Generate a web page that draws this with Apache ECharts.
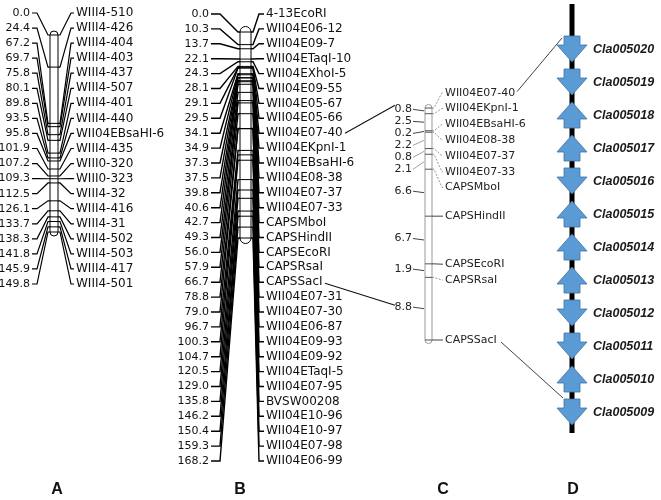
<!DOCTYPE html>
<html><head><meta charset="utf-8">
<script src="https://cdn.jsdelivr.net/npm/echarts@6/dist/echarts.min.js"></script>
<style>html,body{margin:0;padding:0;background:#fff}#c{width:661px;height:500px}</style>
</head><body><div id="c"></div>
<script>
// ---- data ----
const aPositions = [0.0,24.4,67.2,69.7,75.8,80.1,89.8,93.5,95.8,101.9,107.2,109.3,112.5,126.1,133.7,138.3,141.8,145.9,149.8];
const aMarkers = ['WIII4-510','WIII4-426','WIII4-404','WIII4-403','WIII4-437','WIII4-507','WIII4-401','WIII4-440','WII04EBsaHI-6','WIII4-435','WIII0-320','WIII0-323','WIII4-32','WIII4-416','WIII4-31','WIII4-502','WIII4-503','WIII4-417','WIII4-501'];
const bPositions = [0.0,10.3,13.7,22.1,24.3,28.1,29.1,29.5,34.1,34.9,37.3,37.5,39.8,40.6,42.7,49.3,56.0,57.9,66.7,78.8,79.0,96.7,100.3,104.7,120.5,129.0,135.8,146.2,150.4,159.3,168.2];
const bMarkers = ['4-13EcoRI','WII04E06-12','WII04E09-7','WII04ETaqI-10','WII04EXhoI-5','WII04E09-55','WII04E05-67','WII04E05-66','WII04E07-40','WII04EKpnI-1','WII04EBsaHI-6','WII04E08-38','WII04E07-37','WII04E07-33','CAPSMboI','CAPSHindII','CAPSEcoRI','CAPSRsaI','CAPSSacI','WII04E07-31','WII04E07-30','WII04E06-87','WII04E09-93','WII04E09-92','WII04ETaqI-5','WII04E07-95','BVSW00208','WII04E10-96','WII04E10-97','WII04E07-98','WII04E06-99'];
const cPositions = [34.1,34.9,37.3,37.5,39.8,40.6,42.7,49.3,56.0,57.9,66.7];
const cMarkers = ['WII04E07-40','WII04EKpnI-1','WII04EBsaHI-6','WII04E08-38','WII04E07-37','WII04E07-33','CAPSMboI','CAPSHindII','CAPSEcoRI','CAPSRsaI','CAPSSacI'];
const cIntervals = [0.8,2.5,0.2,2.2,0.8,2.1,6.6,6.7,1.9,8.8];
const dGenes = ['Cla005020','Cla005019','Cla005018','Cla005017','Cla005016','Cla005015','Cla005014','Cla005013','Cla005012','Cla005011','Cla005010','Cla005009'];
const dStrands = ['-','-','+','+','-','+','+','+','-','-','+','-'];
const panelLetters = ['A','B','C','D'];

const chart = echarts.init(document.getElementById('c'), null, {renderer:'canvas'});
const NFONT = '11px "DejaVu Sans"';
const MFONT = '12px "DejaVu Sans"';
const CFONT = '11px "DejaVu Sans"';
const INK = '#111';

function yPix(axisIdx, v){ return chart.convertToPixel({yAxisIndex: axisIdx}, v); }

function barSeries(ax, ay, lo, hi, stroke){
  return {type:'custom', xAxisIndex:ax, yAxisIndex:ay, silent:true, animation:false, z:1,
    data:[[0, lo, 1, hi]], encode:{x:[0,2], y:[1,3]},
    renderItem:function(params, api){
      const p1 = api.coord([api.value(0), api.value(1)]);
      const p2 = api.coord([api.value(2), api.value(3)]);
      const w = p2[0]-p1[0], cap = w/2;
      return {type:'rect', shape:{x:p1[0], y:p1[1]-cap, width:w, height:p2[1]-p1[1]+2*cap, r:cap},
        style:{fill:'#fff', stroke:stroke, lineWidth:1}};
    }};
}

function mapSeries(o){
  return {type:'custom', xAxisIndex:o.ax, yAxisIndex:o.ay, silent:true, animation:false, z:2,
    data:o.positions.map((p,i)=>[0,p,i]), encode:{x:0,y:1},
    renderItem:function(params, api){
      const i = api.value(2), p = api.value(1);
      const L = api.coord([0,p]), R = api.coord([1,p]);
      const yb = L[1];
      const yl = yPix(o.labelAxis, i);
      const ln = {stroke:'#000', lineWidth:o.lw, fill:null};
      return {type:'group', children:[
        {type:'line', shape:{x1:L[0], y1:yb, x2:R[0], y2:yb}, style:{stroke:'#000', lineWidth:1}},
        {type:'polyline', shape:{points:[[o.textR+2, yl],[o.kneeL, yl],[L[0]-o.stub, yb],[L[0], yb]]}, style:ln},
        {type:'polyline', shape:{points:[[R[0], yb],[R[0]+o.stub, yb],[o.kneeR, yl],[o.textL-2, yl]]}, style:ln},
        {type:'text', style:{text:p.toFixed(1), x:o.textR, y:yl, align:'right', verticalAlign:'middle', font:NFONT, fill:INK}},
        {type:'text', style:{text:o.names[i], x:o.textL, y:yl, align:'left', verticalAlign:'middle', font:MFONT, fill:INK}}
      ]};
    }};
}

// label layout helpers for panel C
function pushDown(ys, gap){ const r = ys.slice(); for (let i=1;i<r.length;i++) r[i] = Math.max(r[i], r[i-1]+gap); return r; }
function clusterLayout(ys, gap){
  let groups = ys.map((y,i)=>({a:i,b:i}));
  const place = g => { const c=(ys[g.a]+ys[g.b])/2, n=g.b-g.a+1; g.top = c-(n-1)*gap/2; g.bot = g.top+(n-1)*gap; };
  groups.forEach(place);
  let merged = true;
  while (merged){
    merged = false;
    for (let k=0;k<groups.length-1;k++){
      if (groups[k].bot + gap > groups[k+1].top){
        const g = {a:groups[k].a, b:groups[k+1].b}; place(g);
        groups.splice(k,2,g); merged = true; break;
      }
    }
  }
  const r = [];
  groups.forEach(g=>{ for (let i=g.a;i<=g.b;i++) r[i] = g.top+(i-g.a)*gap + (g.b>g.a ? 1.5 : 0); });
  return r;
}
function cMarkerPix(){ return cPositions.map(v=>yPix(4, v)); }
function cRightLabels(){ return clusterLayout(cMarkerPix(), 15.8); }
function cLeftLabels(){
  const mids = cIntervals.map((v,i)=>yPix(4,(cPositions[i]+cPositions[i+1])/2));
  return pushDown(mids, 12).map(y=>y-1.5);
}

const cMarkerSeries = {type:'custom', xAxisIndex:4, yAxisIndex:4, silent:true, animation:false, z:2,
  data:cPositions.map((p,i)=>[0,p,i]), encode:{x:0,y:1},
  renderItem:function(params, api){
    const i = api.value(2), p = api.value(1);
    const L = api.coord([0,p]), R = api.coord([1,p]);
    const yb = L[1];
    const yl = cRightLabels()[i];
    const slanted = Math.abs(yl-yb) > 1.5;
    return {type:'group', children:[
      {type:'line', shape:{x1:L[0], y1:yb, x2:R[0], y2:yb}, style:{stroke:'#555', lineWidth:1}},
      {type:'polyline', shape:{points:[[R[0], yb],[R[0]+2, yb],[R[0]+10, yl],[R[0]+11, yl]]},
        style:{stroke:slanted?'#777':'#444', lineWidth:slanted?0.8:1, lineDash:slanted?[2,1.5]:null, fill:null}},
      {type:'text', style:{text:cMarkers[i], x:R[0]+13, y:yl, align:'left', verticalAlign:'middle', font:CFONT, fill:'#222'}}
    ]};
  }};

const cIntervalSeries = {type:'custom', xAxisIndex:4, yAxisIndex:4, silent:true, animation:false, z:2,
  data:cIntervals.map((v,i)=>[0,(cPositions[i]+cPositions[i+1])/2,i,v]), encode:{x:0,y:1},
  renderItem:function(params, api){
    const i = api.value(2), v = api.value(3);
    const L = api.coord([0, api.value(1)]);
    const yl = cLeftLabels()[i];
    const near = Math.abs(yl-L[1]) < 2;
    return {type:'group', children:[
      {type:'line', shape:{x1:L[0]-12, y1:yl, x2:L[0]-1, y2:L[1]}, style:{stroke:near?'#444':'#888', lineWidth:near?1:0.8}},
      {type:'text', style:{text:v.toFixed(1), x:L[0]-13, y:yl, align:'right', verticalAlign:'middle', font:CFONT, fill:'#222'}}
    ]};
  }};

const spineSeries = {type:'custom', xAxisIndex:5, yAxisIndex:5, silent:true, animation:false, z:1,
  data:[[0.5, 0, dGenes.length-1]], encode:{x:0,y:1},
  renderItem:function(params, api){
    const t = api.coord([0.5, api.value(1)]), b = api.coord([0.5, api.value(2)]);
    return {type:'rect', shape:{x:t[0]-2.5, y:t[1]-45, width:5, height:b[1]-t[1]+66}, style:{fill:'#000'}};
  }};

const geneSeries = {type:'custom', xAxisIndex:5, yAxisIndex:5, silent:true, animation:false, z:3,
  data:dGenes.map((g,i)=>[0.5,i,i]), encode:{x:0,y:1},
  renderItem:function(params, api){
    const i = api.value(2);
    const c = api.coord([0.5, i]);
    const x = c[0], y = c[1], s = dStrands[i]==='-' ? 1 : -1;
    const pts = [[x-8,y-13*s],[x+8,y-13*s],[x+8,y-4*s],[x+15,y-4*s],[x,y+13*s],[x-15,y-4*s],[x-8,y-4*s]];
    return {type:'group', children:[
      {type:'polygon', shape:{points:pts}, style:{fill:'#5B9BD5', stroke:'#41719C', lineWidth:0.8}},
      {type:'text', style:{text:dGenes[i], x:x+21, y:y+1, align:'left', verticalAlign:'middle',
        font:'italic bold 12.5px "Liberation Sans"', fill:'#1a1a1a'}}
    ]};
  }};

const linkSeries = {type:'custom', xAxisIndex:4, yAxisIndex:4, silent:true, animation:false, z:2,
  data:[[0,0]], encode:{x:0,y:1},
  renderItem:function(params, api){
    const bL1 = yPix(3, bMarkers.indexOf(cMarkers[0]));
    const bL2 = yPix(3, bMarkers.indexOf(cMarkers[cMarkers.length-1]));
    const left = cLeftLabels(), right = cRightLabels();
    const g0 = yPix(5, 0), g1 = yPix(5, dGenes.length-1);
    const st = {stroke:'#111', lineWidth:1.1};
    return {type:'group', children:[
      {type:'line', shape:{x1:345, y1:bL1, x2:395, y2:left[0]-4}, style:st},
      {type:'line', shape:{x1:325, y1:bL2+1, x2:395, y2:left[left.length-1]-2}, style:st},
      {type:'line', shape:{x1:517, y1:right[0]-1, x2:562, y2:g0-11}, style:{stroke:'#111', lineWidth:0.8}},
      {type:'line', shape:{x1:501, y1:right[right.length-1]+2, x2:563, y2:g1-14}, style:{stroke:'#111', lineWidth:0.8}}
    ]};
  }};

const hid = {show:false};
const option = {
  animation:false,
  grid:[
    {left:50, width:8, top:35, height:197},     // A bar
    {left:0, width:100, top:13, height:271},    // A labels
    {left:240, width:11, top:32, height:206},   // B bar
    {left:200, width:100, top:14, height:447},  // B labels
    {left:425, width:7, top:108, height:232},   // C bar
    {left:557, width:30, top:49, height:363}    // D genes
  ],
  xAxis:[0,1,2,3,4,5].map(g=>Object.assign({gridIndex:g, type:'value', min:0, max:1}, hid)),
  yAxis:[
    Object.assign({gridIndex:0, type:'value', min:aPositions[0], max:aPositions[aPositions.length-1], inverse:true}, hid),
    Object.assign({gridIndex:1, type:'value', min:0, max:aMarkers.length-1, inverse:true}, hid),
    Object.assign({gridIndex:2, type:'value', min:bPositions[0], max:bPositions[bPositions.length-1], inverse:true}, hid),
    Object.assign({gridIndex:3, type:'value', min:0, max:bMarkers.length-1, inverse:true}, hid),
    Object.assign({gridIndex:4, type:'value', min:cPositions[0], max:cPositions[cPositions.length-1], inverse:true}, hid),
    Object.assign({gridIndex:5, type:'category', data:dGenes, boundaryGap:false, inverse:true}, hid)
  ],
  graphic: panelLetters.map((t,i)=>({type:'text', x:[57,240,443,573][i], y:490,
    style:{text:t, font:'bold 16px "Liberation Sans"', fill:'#111', align:'center', verticalAlign:'middle'}})),
  series:[
    barSeries(0,0,aPositions[0],aPositions[aPositions.length-1],'#000'),
    mapSeries({ax:0, ay:0, labelAxis:1, positions:aPositions, names:aMarkers, textR:30, kneeL:37, stub:2, kneeR:71, textL:76, lw:1.2}),
    barSeries(2,2,bPositions[0],bPositions[bPositions.length-1],'#000'),
    mapSeries({ax:2, ay:2, labelAxis:3, positions:bPositions, names:bMarkers, textR:209, kneeL:220, stub:2, kneeR:259, textL:266, lw:1.4}),
    barSeries(4,4,cPositions[0],cPositions[cPositions.length-1],'#999'),
    cMarkerSeries, cIntervalSeries, linkSeries, spineSeries, geneSeries
  ]
};
chart.setOption(option);
</script></body></html>
